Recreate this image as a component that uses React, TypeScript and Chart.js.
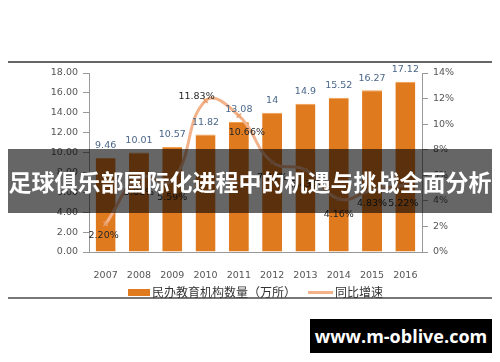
import React, { useEffect, useRef } from 'react';
import { Chart, registerables } from 'chart.js';

Chart.register(...registerables);

const years = ['2007', '2008', '2009', '2010', '2011', '2012', '2013', '2014', '2015', '2016'];
const institutions = [9.46, 10.01, 10.57, 11.82, 13.08, 14, 14.9, 15.52, 16.27, 17.12];
const growth = [2.2, 5.81, 5.59, 11.83, 10.66, 7.03, 6.43, 4.16, 4.83, 5.22];
const barLabel = '民办教育机构数量（万所）';
const lineLabel = '同比增速';
const bannerText = '足球俱乐部国际化进程中的机遇与挑战全面分析';
const siteText = 'www.m-oblive.com';

// label offsets (style only) for growth labels
const growthLabelOffsets: [number, number][] = [
  [-2, 12], [0, 15], [0, 17], [-9, -4], [8, 17], [0, 15], [0, 15], [0, 16], [0, 13], [-2, 18],
];

const NUM_FONT = '"DejaVu Sans", sans-serif';
const CJK_FONT = '"Noto Sans CJK SC", sans-serif';

const labelPlugin = {
  id: 'valueLabels',
  afterDatasetsDraw(chart: any) {
    const ctx = chart.ctx;
    ctx.save();
    ctx.textAlign = 'center';
    ctx.textBaseline = 'middle';
    ctx.font = '9.5px ' + NUM_FONT;
    ctx.fillStyle = '#4a6688';
    chart.getDatasetMeta(0).data.forEach((el: any, i: number) => {
      ctx.fillText(String(institutions[i]), el.x, el.y - 12);
    });
    ctx.fillStyle = '#262626';
    chart.getDatasetMeta(1).data.forEach((el: any, i: number) => {
      const [dx, dy] = growthLabelOffsets[i];
      ctx.fillText(growth[i].toFixed(2) + '%', el.x + dx, el.y + dy);
    });
    ctx.restore();
  },
};

export default function App() {
  const canvasRef = useRef<HTMLCanvasElement | null>(null);

  useEffect(() => {
    if (!canvasRef.current) return;
    const chart = new Chart(canvasRef.current, {
      type: 'bar',
      data: {
        labels: years,
        datasets: [
          {
            type: 'bar',
            label: barLabel,
            data: institutions,
            backgroundColor: '#E07A1F',
            borderColor: '#F0A050',
            borderWidth: { top: 1, left: 0, right: 0, bottom: 0 } as any,
            yAxisID: 'y',
            categoryPercentage: 1,
            barPercentage: 0.6,
            order: 1,
          },
          {
            type: 'line',
            label: lineLabel,
            data: growth,
            borderColor: '#F3B289',
            borderWidth: 3,
            tension: 0.45,
            pointStyle: 'crossRot',
            pointRadius: 3,
            pointBorderColor: '#E9A070',
            pointBorderWidth: 1.5,
            yAxisID: 'y1',
            order: 0,
          } as any,
        ],
      },
      options: {
        responsive: false,
        animation: false,
        devicePixelRatio: 1,
        layout: { padding: { top: 73, left: 0, right: 0, bottom: 0 } },
        plugins: { legend: { display: false }, tooltip: { enabled: false } },
        scales: {
          x: {
            grid: { display: false },
            border: { display: true, color: '#999', width: 1 },
            ticks: { color: '#555', font: { family: NUM_FONT, size: 9.5 }, padding: 10, maxRotation: 0 },
            afterFit: (s: any) => { s.height = 110; },
          },
          y: {
            position: 'left',
            min: 0,
            max: 18,
            ticks: {
              stepSize: 2,
              color: '#555',
              font: { family: NUM_FONT, size: 9.5 },
              padding: 5,
              callback: (v: any) => Number(v).toFixed(2),
            },
            grid: { drawOnChartArea: false, drawTicks: true, tickLength: 6, color: '#999' },
            border: { display: true, color: '#999' },
            afterFit: (s: any) => { s.width = 89; },
          },
          y1: {
            position: 'right',
            min: 0,
            max: 14,
            ticks: {
              stepSize: 2,
              color: '#555',
              font: { family: NUM_FONT, size: 9.5 },
              padding: 5,
              callback: (v: any) => v + '%',
            },
            grid: { drawOnChartArea: false, drawTicks: true, tickLength: 6, color: '#999' },
            border: { display: true, color: '#999' },
            afterFit: (s: any) => { s.width = 78; },
          },
        },
      },
      plugins: [labelPlugin],
    } as any);
    return () => chart.destroy();
  }, []);

  return (
    <div style={{ position: 'fixed', left: 0, top: 0, width: 500, height: 362, background: '#fff', overflow: 'hidden' }}>
      <canvas ref={canvasRef} width={500} height={362} style={{ position: 'absolute', left: 0, top: 0, width: 500, height: 362 }} />
      <div style={{ position: 'absolute', left: 8, top: 61, width: 484, height: 2, background: '#666' }} />
      <div style={{ position: 'absolute', left: 8, top: 297, width: 484, height: 2, background: '#777' }} />
      {/* legend */}
      <div style={{ position: 'absolute', left: 128, top: 289, width: 22, height: 7, background: '#E07A1F' }} />
      <div style={{ position: 'absolute', left: 152, top: 283, fontFamily: CJK_FONT, fontSize: 12, lineHeight: '18px', color: '#333', whiteSpace: 'nowrap' }}>{barLabel}</div>
      <div style={{ position: 'absolute', left: 308, top: 291, width: 25, height: 3, background: '#F3B289' }} />
      <div style={{ position: 'absolute', left: 335, top: 283, fontFamily: CJK_FONT, fontSize: 12, lineHeight: '18px', color: '#333', whiteSpace: 'nowrap' }}>{lineLabel}</div>
      {/* banner */}
      <div style={{ position: 'absolute', left: 8, top: 149, width: 484, height: 64, background: 'rgba(0,0,0,0.6)', color: '#fff', fontFamily: CJK_FONT, fontWeight: 700, fontSize: 23, lineHeight: '64px', textAlign: 'center', whiteSpace: 'nowrap' }}>{bannerText}</div>
      {/* site tag */}
      <div style={{ position: 'absolute', left: 310, top: 319, width: 182, height: 34, background: '#000', color: '#fff', fontFamily: '"Open Sans", sans-serif', fontWeight: 700, fontSize: 18, lineHeight: '34px', textAlign: 'center', whiteSpace: 'nowrap' }}>{siteText}</div>
    </div>
  );
}
